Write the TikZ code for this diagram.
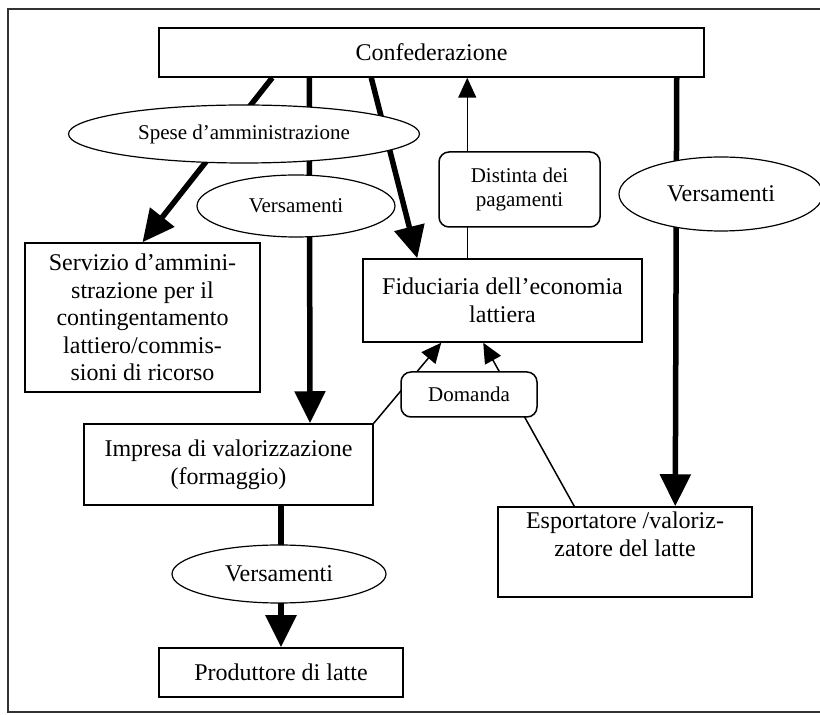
\documentclass[tikz,border=0pt]{standalone}
\usepackage{fontspec}
\setmainfont{Liberation Serif}
\usepackage{tikz}
\usetikzlibrary{arrows.meta,positioning,shapes.geometric,backgrounds}

\begin{document}
\begin{tikzpicture}[x=0.5pt,y=-0.5pt,
    box/.style={draw,line width=0.75pt,fill=white,align=center,inner sep=0pt,font=\fontsize{12}{13.8}\selectfont},
    roundbox/.style={box,rounded corners=5pt,font=\fontsize{10.5}{12}\selectfont},
    oval/.style={ellipse,draw,line width=0.6pt,fill=white,inner sep=0pt,font=\fontsize{12}{14}\selectfont},
    flow/.style={line width=2.75pt,-{Triangle[length=16pt,width=15pt]}},
    req/.style={line width=0.75pt,-{Triangle[length=10pt,width=9pt]}}]
    \useasboundingbox (0,0) rectangle (820,715);
    \draw[line width=0.75pt,black!80] (820,9) -- (8,9) -- (8,712) -- (820,712);

    \node[box,minimum width=272.5pt,minimum height=24.5pt] (conf) at (431.5,52.5) {Confederazione};
    \node[box,minimum width=117.5pt,minimum height=74.5pt] (serv) at (142.5,317.5)
        {Servizio d’ammini-\\strazione per il\\contingentamento\\lattiero/commis-\\sioni di ricorso};
    \node[box,minimum width=139.5pt,minimum height=41.5pt] (fid) at (502.5,300.5)
        {Fiduciaria dell’economia\\lattiera};
    \node[box,minimum width=144.5pt,minimum height=40.5pt] (imp) at (228.5,464.5)
        {Impresa di valorizzazione\\(formaggio)};
    \node[box,minimum width=127pt,minimum height=45pt] (esp) at (625,552)
        {Esportatore /valoriz-\\zatore del latte\\[4pt]};
    \node[box,minimum width=122pt,minimum height=24.5pt] (prod) at (281,672.5) {Produttore di latte};

    \node[roundbox,minimum width=80.5pt,minimum height=37.5pt] (dist) at (519.5,189.5) {Distinta dei\\pagamenti};
    \node[roundbox,minimum width=68pt,minimum height=22.5pt] (dom) at (469,394.5) {Domanda};

    \node[oval,minimum width=175.5pt,minimum height=29pt,font=\fontsize{10.5}{12}\selectfont] (spese) at (244,134)
        {Spese d’amministrazione};
    \node[oval,minimum width=99pt,minimum height=31pt,font=\fontsize{10.5}{12}\selectfont] (versl) at (296,206) {Versamenti};
    \node[oval,minimum width=102pt,minimum height=37pt] (versr) at (721,194) {Versamenti};
    \node[oval,minimum width=107pt,minimum height=29pt] (versb) at (279,574) {Versamenti};

    \begin{scope}[on background layer]
        \draw[flow] ([xshift=57pt]conf.south west) -- (serv.north);
        \draw[flow] ([xshift=75.5pt]conf.south west) -- ([xshift=40.75pt]imp.north);
        \draw[flow] ([xshift=106.5pt]conf.south west) -- ([xshift=27.5pt]fid.north west);
        \draw[flow] ([xshift=-14pt]conf.south east) -- ([xshift=89pt]esp.north west);
        \draw[flow] (imp.south -| prod.north) -- (prod.north);
        \draw[req] ([xshift=52.5pt]fid.north west) -- ([xshift=154.5pt]conf.south west);
        \draw[req] (imp.north east) -- ([xshift=39.5pt]fid.south west);
        \draw[req] ([xshift=38.5pt]esp.north west) -- ([xshift=60.5pt]fid.south west);
    \end{scope}
\end{tikzpicture}
\end{document}
